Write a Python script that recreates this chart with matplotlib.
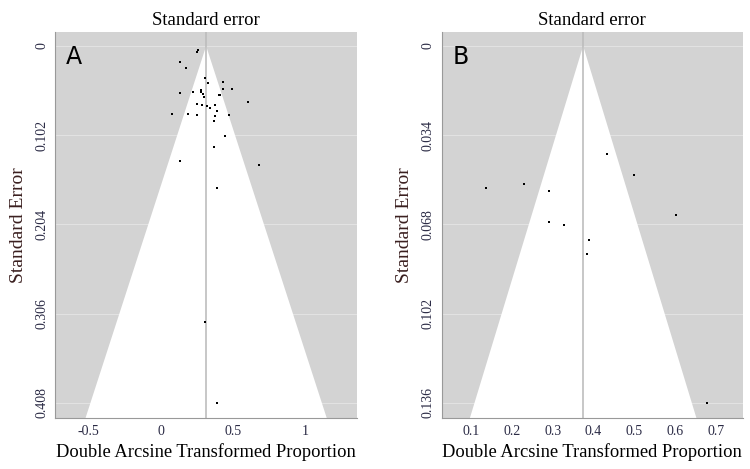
import numpy as np
import matplotlib
matplotlib.use("Agg")
import matplotlib.pyplot as plt

# panel A: double arcsine transformed proportion vs standard error
a_x = [0.247, 0.254, 0.131, 0.171, 0.304, 0.323, 0.427, 0.431, 0.493, 0.221,
       0.277, 0.279, 0.288, 0.300, 0.129, 0.399, 0.408, 0.600, 0.247, 0.284,
       0.320, 0.337, 0.376, 0.385, 0.376, 0.468, 0.074, 0.185, 0.247, 0.369,
       0.445, 0.367, 0.129, 0.678, 0.389, 0.306, 0.389]
a_se = [0.0065, 0.0046, 0.0187, 0.0255, 0.0362, 0.0420, 0.0408, 0.0488, 0.0492, 0.0522,
        0.0507, 0.0530, 0.0552, 0.0583, 0.0541, 0.0557, 0.0564, 0.0640, 0.0663, 0.0671,
        0.0686, 0.0705, 0.0678, 0.0740, 0.0797, 0.0785, 0.0774, 0.0774, 0.0785, 0.0861,
        0.1032, 0.1158, 0.1311, 0.1357, 0.1620, 0.3160, 0.4086]
a_center = 0.312
a_yticks = [0, 0.102, 0.204, 0.306, 0.408]
a_xticks = [-0.5, 0, 0.5, 1]
a_xticklabels = ["-0.5", "0", "0.5", "1"]

# panel B
b_x = [0.433, 0.500, 0.137, 0.230, 0.290, 0.604, 0.292, 0.329, 0.390, 0.384, 0.680]
b_se = [0.0412, 0.0492, 0.0540, 0.0525, 0.0554, 0.0643, 0.0671, 0.0683, 0.0741, 0.0794, 0.1362]
b_center = 0.375
b_yticks = [0, 0.034, 0.068, 0.102, 0.136]
b_xticks = [0.1, 0.2, 0.3, 0.4, 0.5, 0.6, 0.7]
b_xticklabels = ["0.1", "0.2", "0.3", "0.4", "0.5", "0.6", "0.7"]

serif = ["Liberation Serif", "DejaVu Serif"]
plt.rcParams["font.family"] = serif

fig = plt.figure(figsize=(7.5, 4.69), dpi=100)


def funnel(ax, xs, ses, center, yticks, xticks, xticklabels, xlim, ylim, letter):
    ax.set_facecolor("#d3d3d3")
    top = ylim[1]
    ax.fill([center - 1.96 * top, center, center + 1.96 * top],
            [top, 0, top], color="white", zorder=1, lw=0)
    for t in yticks:
        ax.axhline(t, color="#e6e6e6", lw=0.6, zorder=0.5)
    ax.axvline(center, color="#bdbdbd", lw=1.2, zorder=2)
    ax.scatter(xs, ses, s=4, marker="s", color="black", zorder=3, lw=0)
    ax.set_xlim(*xlim)
    ax.set_ylim(ylim[1], ylim[0])
    ax.set_yticks(yticks)
    ax.set_yticklabels([("%g" % t) if t != 0 else "0" for t in yticks],
                       rotation=90, va="center", fontsize=10, color="#2b2b45")
    ax.set_xticks(xticks)
    ax.set_xticklabels(xticklabels, fontsize=10, color="#2b2b45")
    ax.tick_params(length=0, pad=5)
    for s in ["top", "right"]:
        ax.spines[s].set_visible(False)
    for s in ["left", "bottom"]:
        ax.spines[s].set_color("#999999")
        ax.spines[s].set_linewidth(0.8)
    ax.set_title("Standard error", fontsize=13.5, pad=5)
    ax.set_xlabel("Double Arcsine Transformed Proportion", fontsize=13.3, labelpad=4)
    ax.set_ylabel("Standard Error", fontsize=14, color="#3a1f1f", labelpad=6)
    ax.text(0.035, 0.935, letter, transform=ax.transAxes, fontsize=17,
            family=["DejaVu Sans"], va="center", ha="left", zorder=4)


ax1 = fig.add_axes([0.0733, 0.1087, 0.4027, 0.823])
funnel(ax1, a_x, a_se, a_center, a_yticks, a_xticks, a_xticklabels,
       (-0.733, 1.355), (-0.016, 0.4254), "A")

ax2 = fig.add_axes([0.589, 0.1087, 0.401, 0.823])
funnel(ax2, b_x, b_se, b_center, b_yticks, b_xticks, b_xticklabels,
       (0.028, 0.766), (-0.0053, 0.1418), "B")

fig.savefig("out.png", dpi=100)
